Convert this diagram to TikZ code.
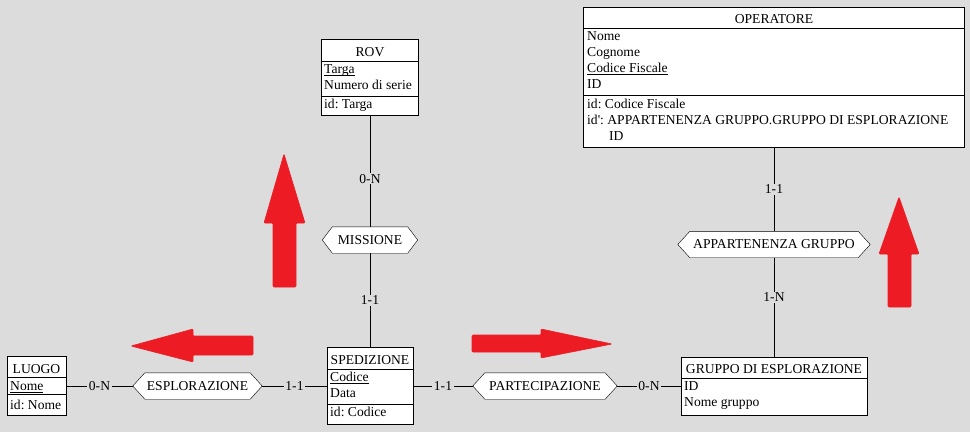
\documentclass[tikz,border=0pt]{standalone}
\usepackage{fontspec}
\setmainfont{Liberation Serif}
\newfontfamily\plainserif{Liberation Serif}
\usetikzlibrary{calc}
\definecolor{bggray}{RGB}{220,220,220}
\definecolor{arrred}{RGB}{237,28,36}
\pgfdeclarelayer{back}\pgfdeclarelayer{mid}\pgfsetlayers{back,mid,main}
\newcommand\ulin[1]{\setbox0\hbox{#1}\rlap{\rule[-2.4pt]{\wd0}{0.8pt}}\box0}
\newcommand\hexpath[2]{\draw[fill=white] (#1.west) -- ([xshift=#2]#1.north west) -- ([xshift=-#2]#1.north east) -- (#1.east) -- ([xshift=-#2]#1.south east) -- ([xshift=#2]#1.south west) -- cycle;}
\frenchspacing
\begin{document}
\begin{tikzpicture}[x=1pt,y=-1pt, line width=0.9pt,
 every node/.style={font=\fontsize{13.6}{16}\selectfont},
 ent/.style={draw, fill=white, inner sep=0pt},
 txt/.style={inner sep=0pt, anchor=base west},
 ttl/.style={inner sep=0pt, anchor=base},
 rel/.style={inner sep=0pt, minimum height=26pt},
 card/.style={fill=bggray, inner xsep=1.5pt, inner ysep=1pt},
 redarrow/.style={fill=arrred, draw=arrred, line width=0.6pt, line join=round, rounded corners=1pt}]
\useasboundingbox (0,0) rectangle (970,432);
\begin{pgfonlayer}{back}\fill[bggray] (0,0) rectangle (970,432);\end{pgfonlayer}

% ROV
\node[ent, minimum width=97pt, minimum height=76pt] (rov) at (370,77) {};
\node[ttl] (rovt) at (370,56) {ROV};
\draw ([yshift=-22pt]rov.north west) -- ([yshift=-22pt]rov.north east);
\node[txt] (rova1) at (324,73) {\ulin{Targa}};
\node[txt] (rova2) at (324,89) {Numero di serie};
\draw ([yshift=-57pt]rov.north west) -- ([yshift=-57pt]rov.north east);
\node[txt] (rovi1) at (324,108) {id: Targa};

% OPERATORE
\node[ent, minimum width=381pt, minimum height=140pt] (op) at (774,77) {};
\node[ttl] (opt) at (774,23) {OPERATORE};
\draw ([yshift=-21pt]op.north west) -- ([yshift=-21pt]op.north east);
\node[txt] (opa1) at (587,40.5) {Nome};
\node[txt] (opa2) at (587,56.5) {Cognome};
\node[txt] (opa3) at (587,72.5) {\ulin{Codice Fiscale}};
\node[txt] (opa4) at (587,88.5) {ID};
\draw ([yshift=-88pt]op.north west) -- ([yshift=-88pt]op.north east);
\node[txt] (opi1) at (587,108) {id: Codice Fiscale};
\node[txt] (opi2) at (587,124) {{\plainserif id'}: APPARTENENZA GRUPPO.GRUPPO DI ESPLORAZIONE};
\node[txt] (opi3) at (609,140) {ID};

% SPEDIZIONE
\node[ent, minimum width=86pt, minimum height=77pt] (sped) at (370,386) {};
\node[ttl] (spedt) at (370,364.5) {SPEDIZIONE};
\draw ([yshift=-22pt]sped.north west) -- ([yshift=-22pt]sped.north east);
\node[txt] (speda1) at (330,381.5) {\ulin{Codice}};
\node[txt] (speda2) at (330,397.5) {Data};
\draw ([yshift=-57pt]sped.north west) -- ([yshift=-57pt]sped.north east);
\node[txt] (spedi1) at (330,416.5) {id: Codice};

% LUOGO
\node[ent, minimum width=59pt, minimum height=59pt] (luogo) at (36.5,386) {};
\node[ttl] (luogot) at (36.5,373) {LUOGO};
\draw ([yshift=-21pt]luogo.north west) -- ([yshift=-21pt]luogo.north east);
\node[txt] (luogoa1) at (10,390) {\ulin{Nome}};
\node[txt] (luogoi1) at (10,409.5) {id: Nome};
\draw ([yshift=-38pt]luogo.north west) -- ([yshift=-38pt]luogo.north east);

% GRUPPO DI ESPLORAZIONE
\node[ent, minimum width=186pt, minimum height=58pt] (grp) at (774,386) {};
\node[ttl] (grpt) at (774,373) {GRUPPO DI ESPLORAZIONE};
\draw ([yshift=-21pt]grp.north west) -- ([yshift=-21pt]grp.north east);
\node[txt] (grpa1) at (684,390) {ID};
\node[txt] (grpa2) at (684,406) {Nome gruppo};

% relationships
\node[rel, minimum width=95pt] (mis) at (370,240) {MISSIONE};
\node[rel, minimum width=129pt] (esp) at (197.5,386) {ESPLORAZIONE};
\node[rel, minimum width=144pt] (par) at (545,386) {PARTECIPAZIONE};
\node[rel, minimum width=192pt] (app) at (774,244.5) {APPARTENENZA GRUPPO};
\begin{pgfonlayer}{mid}
\hexpath{mis}{10pt}
\hexpath{esp}{12pt}
\hexpath{par}{12pt}
\hexpath{app}{12pt}
\end{pgfonlayer}

% connectors
\begin{pgfonlayer}{back}
\draw (luogo.east) -- node[card] (c1) {0-N} (esp.west);
\draw (esp.east) -- node[card] (c2) {1-1} (sped.west);
\draw (sped.east) -- node[card] (c3) {1-1} (par.west);
\draw (par.east) -- node[card] (c4) {0-N} (grp.west);
\draw (rov.south) -- node[card, pos=0.57] (c5) {0-N} (mis.north);
\draw (mis.south) -- node[card] (c6) {1-1} (sped.north);
\draw (op.south) -- node[card] (c7) {1-1} (app.north);
\draw (app.south) -- node[card, pos=0.4] (c8) {1-N} (grp.north);
\end{pgfonlayer}

% red arrows
\path[redarrow] (284,154) -- (305,223) -- (296,223) -- (296,287) -- (273,287) -- (273,223) -- (264,223) -- cycle;
\path[redarrow] (899,197) -- (919,254) -- (911,254) -- (911,307) -- (888,307) -- (888,254) -- (879,254) -- cycle;
\path[redarrow] (131,346) -- (193,329) -- (193,336) -- (253,336) -- (253,355) -- (193,355) -- (193,362) -- cycle;
\path[redarrow] (612,344) -- (541,329) -- (541,335) -- (472,335) -- (472,352) -- (541,352) -- (541,358) -- cycle;
\end{tikzpicture}
\end{document}
